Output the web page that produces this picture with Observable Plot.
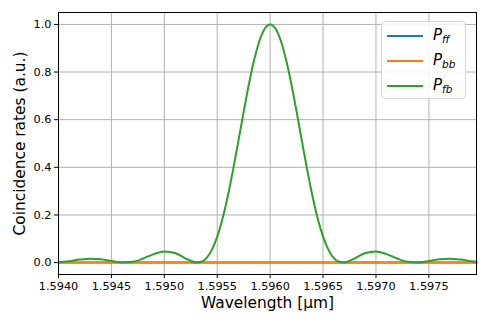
<!DOCTYPE html>
<html>
<head>
<meta charset="utf-8">
<script src="https://cdn.jsdelivr.net/npm/d3@7"></script>
<script src="https://cdn.jsdelivr.net/npm/@observablehq/plot@0.6"></script>
<style>
  body { margin: 0; background: white; }
  #wrap { position: relative; width: 488px; height: 326px; font-family: "DejaVu Sans", sans-serif; }
  #legend { position: absolute; left: 381px; top: 21px; width: 85px; height: 78px; box-sizing: border-box;
    border: 1px solid #d6d6d6; border-radius: 4px; background: rgba(255,255,255,0.85); }
  .row { position: absolute; left: 0; height: 20px; }
  .sw { position: absolute; left: 5px; width: 36px; height: 0; border-top: 2px solid; }
  .lab { position: absolute; left: 51px; font-size: 15px; font-style: italic; white-space: nowrap; line-height: 1; }
  .lab sub { font-size: 10.5px; vertical-align: -3px; }
</style>
</head>
<body>
<div id="wrap"></div>
<script>
const wavelength = [1.5940, 1.5941, 1.5942, 1.5943, 1.5944, 1.5945, 1.5946, 1.5947, 1.5948, 1.5949,
  1.5950, 1.5951, 1.5952, 1.59525, 1.5953, 1.59535, 1.5954, 1.59545, 1.5955, 1.59555,
  1.5956, 1.59565, 1.5957, 1.59575, 1.5958, 1.59585, 1.5959, 1.59595, 1.5960,
  1.59605, 1.5961, 1.59615, 1.5962, 1.59625, 1.5963, 1.59635, 1.5964, 1.59645, 1.5965,
  1.59655, 1.5966, 1.59665, 1.5967, 1.59675, 1.5968, 1.5969, 1.5970, 1.5971, 1.5972,
  1.5973, 1.5974, 1.5975, 1.5976, 1.5977, 1.5978, 1.5979, 1.59795];
const P_fb = [0.0009, 0.0059, 0.0127, 0.0164, 0.0139, 0.0064, 0.0003, 0.0031, 0.0170, 0.0357,
  0.0469, 0.0404, 0.0181, 0.0069, 0.0003, 0.0032, 0.0201, 0.0545, 0.1088, 0.1842,
  0.2795, 0.3901, 0.5108, 0.6336, 0.7508, 0.8525, 0.9324, 0.9828, 1.0,
  0.9828, 0.9324, 0.8525, 0.7508, 0.6336, 0.5108, 0.3901, 0.2795, 0.1842, 0.1088,
  0.0545, 0.0201, 0.0032, 0.0003, 0.0069, 0.0181, 0.0404, 0.0469, 0.0357, 0.0170,
  0.0031, 0.0003, 0.0064, 0.0139, 0.0164, 0.0127, 0.0059, 0.0032];
const flatWavelength = [1.5940, 1.59795];
const P_ff = [0, 0];
const P_bb = [0, 0];
const xTicks = [1.5940, 1.5945, 1.5950, 1.5955, 1.5960, 1.5965, 1.5970, 1.5975];
const yTicks = [0.0, 0.2, 0.4, 0.6, 0.8, 1.0];
const seriesNames = ["P_ff", "P_bb", "P_fb"];
const seriesColors = ["#1f77b4", "#ff7f0e", "#2ca02c"];

const fb = wavelength.map((w, i) => ({w, v: P_fb[i]}));
const ff = flatWavelength.map((w, i) => ({w, v: P_ff[i]}));
const bb = flatWavelength.map((w, i) => ({w, v: P_bb[i]}));

const chart = Plot.plot({
  width: 488,
  height: 326,
  marginLeft: 58,
  marginRight: 12,
  marginTop: 12,
  marginBottom: 52,
  style: {fontFamily: "DejaVu Sans", fontSize: "11.3px", color: "black", background: "white"},
  x: {domain: [1.5940, 1.59795], ticks: xTicks, tickFormat: d3.format(".4f"), label: null, tickSize: 4, tickPadding: 3},
  y: {domain: [-0.05, 1.05], ticks: yTicks, tickFormat: d3.format(".1f"), label: null, tickSize: 4, tickPadding: 3},
  marks: [
    Plot.gridX(xTicks, {stroke: "#b0b0b0", strokeOpacity: 1, strokeWidth: 1}),
    Plot.gridY(yTicks, {stroke: "#b0b0b0", strokeOpacity: 1, strokeWidth: 1}),
    Plot.line(ff, {x: "w", y: "v", stroke: seriesColors[0], strokeWidth: 2}),
    Plot.line(bb, {x: "w", y: "v", stroke: seriesColors[1], strokeWidth: 2}),
    Plot.line(fb, {x: "w", y: "v", stroke: seriesColors[2], strokeWidth: 2, curve: "monotone-x"}),
    Plot.frame({stroke: "black", strokeWidth: 1}),
    Plot.text(["Wavelength [μm]"], {frameAnchor: "bottom", lineAnchor: "middle", textAnchor: "middle", dy: 29, fontSize: 15.4, fill: "black"}),
    Plot.text(["Coincidence rates (a.u.)"], {frameAnchor: "left", textAnchor: "middle", lineAnchor: "middle", rotate: -90, dx: -38, fontSize: 15.4, fill: "black"})
  ]
});
const wrap = document.getElementById("wrap");
wrap.appendChild(chart);

const legend = document.createElement("div");
legend.id = "legend";
const subs = ["ff", "bb", "fb"];
seriesNames.forEach((name, i) => {
  const row = document.createElement("div");
  row.className = "row";
  row.style.top = (4 + i * 25) + "px";
  row.style.width = "100%";
  row.innerHTML = `<div class="sw" style="top:9px;border-color:${seriesColors[i]}"></div>` +
    `<div class="lab" style="top:2px">P<sub>${subs[i]}</sub></div>`;
  legend.appendChild(row);
});
wrap.appendChild(legend);
</script>
</body>
</html>
